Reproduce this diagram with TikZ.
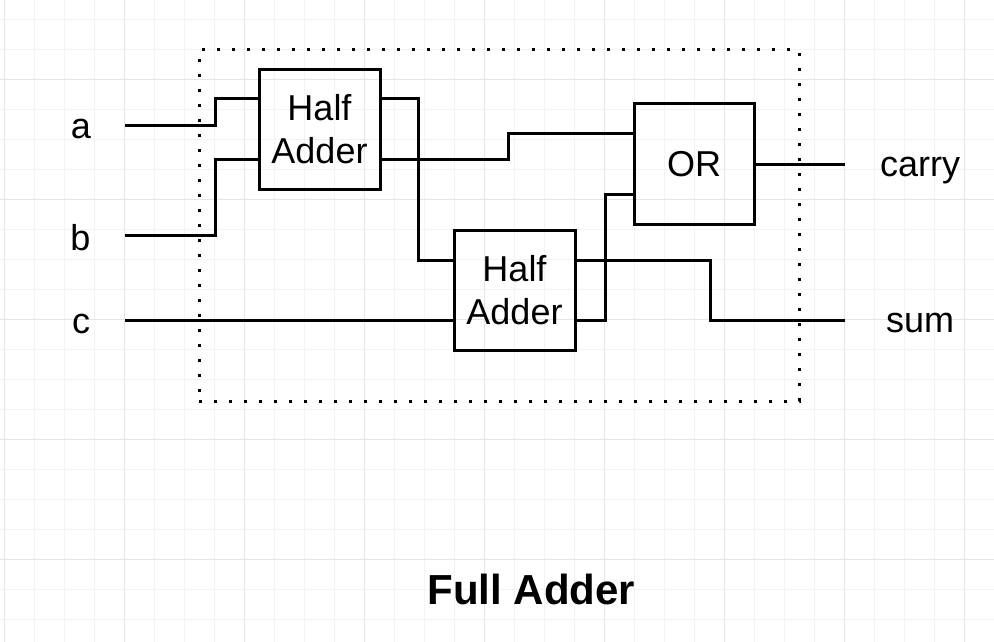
\documentclass[tikz,border=0pt]{standalone}
\usepackage{fontspec}
\setmainfont{Liberation Sans}
\definecolor{gridminor}{RGB}{243,243,243}
\definecolor{gridmajor}{RGB}{229,229,229}
\begin{document}
\begin{tikzpicture}[x=1pt,y=-1pt,
  wire/.style={line width=3pt},
  block/.style={draw, line width=3pt, inner sep=0pt, align=center, font=\fontsize{36}{43}\selectfont},
  lbl/.style={anchor=base, inner sep=0pt, font=\fontsize{36}{43}\selectfont},
  frame/.style={draw, line width=3pt, dash pattern=on 3pt off 12pt, inner sep=0pt},
  gline/.style={line width=1pt}]
\useasboundingbox (0,0) rectangle (994,642);
\fill[white] (0,0) rectangle (994,642);
% grid
\foreach \i in {0,...,33}{\draw[gline,gridminor] (4.3+30*\i,0) -- (4.3+30*\i,642);}
\foreach \j in {0,...,20}{\draw[gline,gridminor] (0,19.3+30*\j) -- (994,19.3+30*\j);}
\foreach \i in {0,...,8}{\draw[gline,gridmajor] (4.3+120*\i,0) -- (4.3+120*\i,642);}
\foreach \j in {0,...,4}{\draw[gline,gridmajor] (0,79.3+120*\j) -- (994,79.3+120*\j);}
% frame
\node[frame, minimum width=600pt, minimum height=351pt] (fa) at (499,225.5) {};
% blocks
\node[block, minimum width=121pt, minimum height=119pt] (ha1) at (319.5,129.5) {Half\\Adder};
\node[block, minimum width=121pt, minimum height=120pt] (ha2) at (514.5,290) {Half\\Adder};
\node[block, minimum width=120pt, minimum height=120pt] (orgate) at (694,164) {OR};
% labels
\node[lbl] (la) at (81,138) {a};
\node[lbl] (lb) at (80.5,250) {b};
\node[lbl] (lc) at (81,333) {c};
\node[lbl] (lcarry) at (920,176.5) {carry};
\node[lbl] (lsum) at (920,332.5) {sum};
\node[anchor=base, inner sep=0pt, font=\bfseries\fontsize{42}{50}\selectfont] (title) at (531.5,604) {Full Adder};
% wire ends
\coordinate (ina) at (125,125);
\coordinate (inb) at (125,235);
\coordinate (inc) at (125,320);
\coordinate (outcarry) at (845,164);
\coordinate (outsum) at (845,320);
% wires
\draw[wire] (ina) -- ++(90,0) |- (ha1.west |- 0,99);
\draw[wire] (inb) -- ++(90,0) |- (ha1.west |- 0,159);
\draw[wire] (inc) -- (ha2.west |- 0,320);
\draw[wire] (ha1.east |- 0,99) -- ++(37,0) |- (ha2.west |- 0,260);
\draw[wire] (ha1.east |- 0,159) -- ++(127,0) |- (orgate.west |- 0,133);
\draw[wire] (ha2.east |- 0,320) -- ++(29,0) |- (orgate.west |- 0,194);
\draw[wire] (ha2.east |- 0,260) -- ++(134,0) |- (outsum);
\draw[wire] (orgate.east) -- (outcarry);
\end{tikzpicture}
\end{document}
